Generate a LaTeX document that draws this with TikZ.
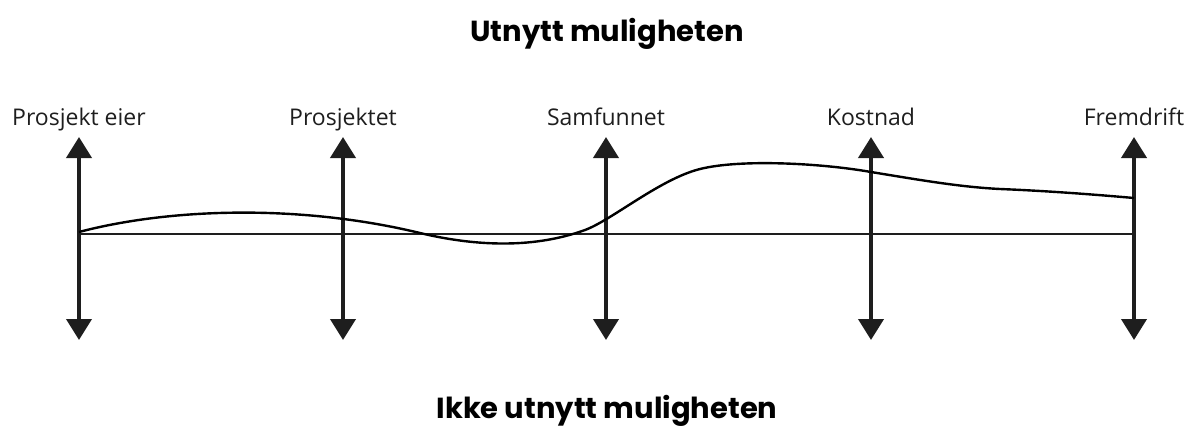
\documentclass[tikz,border=0pt]{standalone}
\usepackage{fontspec}
\setmainfont{Open Sans}
\newfontfamily\headfont{Poppins}
\usetikzlibrary{arrows.meta}
\definecolor{ink}{HTML}{1E1E1E}
\begin{document}
\begin{tikzpicture}[x=1pt,y=-1pt,
  axisline/.style={draw=ink,line width=4pt,{Triangle[width=25pt,length=21pt]}-{Triangle[width=25pt,length=21pt]}},
  refline/.style={draw=ink,line width=2.4pt},
  trend/.style={draw=black,line width=2.4pt,line join=round},
  axislabel/.style={anchor=base,font=\fontsize{23}{27}\selectfont,text=ink,inner sep=0pt},
  heading/.style={anchor=base,font=\headfont\fontsize{29}{34}\selectfont\bfseries,text=black,inner sep=0pt}]
\useasboundingbox (0,0) rectangle (1190,429);

% headings
\node[heading] (up) at (607,41) {Utnytt muligheten};
\node[heading] (down) at (607,418) {Ikke utnytt muligheten};

% vertical axes with their labels
\foreach \nm/\xx/\txt in {a/79/Prosjekt eier, b/343/Prosjektet, c/606/Samfunnet, d/871/Kostnad, e/1134/Fremdrift}{
  \coordinate (\nm-top) at (\xx,137);
  \coordinate (\nm-bot) at (\xx,340);
  \node[axislabel] (\nm-lbl) at (\xx,125) {\txt};
  \draw[axisline] (\nm-top) -- (\nm-bot);
}

% reference line between the outer axes
\coordinate (leftmid) at (79,234);
\coordinate (rightmid) at (1134,234);
\draw[refline] (leftmid) -- (rightmid);

% trend curve
\coordinate (trendstart) at (79,232);
\coordinate (trendend) at (1134,198);
\draw[trend] (trendstart)
  .. controls (170,208) and (300,204) .. (420,233)
  .. controls (470,245) and (530,250) .. (585,230)
  .. controls (612,220) and (660,179) .. (700,169)
  .. controls (740,159) and (820,163) .. (871,172)
  .. controls (920,180) and (960,187) .. (1000,189)
  .. controls (1050,191) and (1100,195) .. (trendend);
\end{tikzpicture}
\end{document}
